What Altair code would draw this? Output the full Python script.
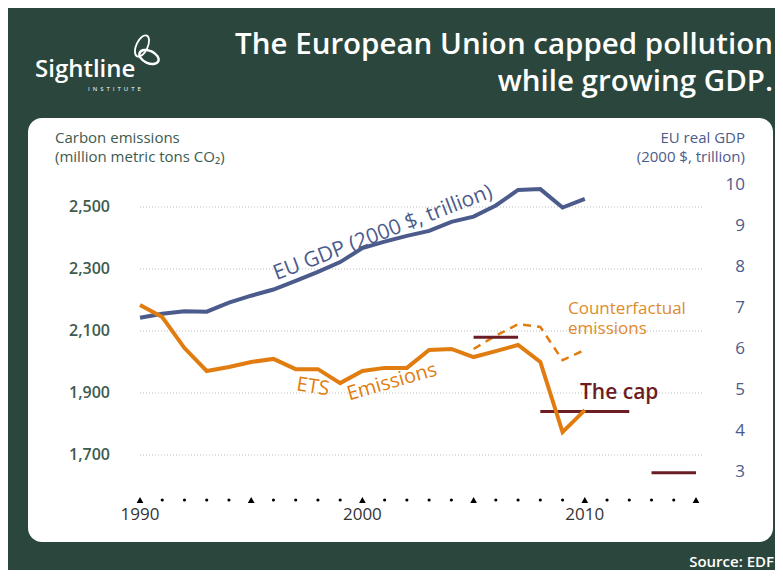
import altair as alt
import pandas as pd

# ---- data ----
years = list(range(1990, 2011))
ets_emissions = [2184, 2145, 2045, 1971, 1984, 2000, 2010, 1977, 1977, 1932,
                 1971, 1981, 1981, 2039, 2042, 2016, 2035, 2055, 2000, 1774, 1845]
eu_gdp = [6.76, 6.86, 6.92, 6.91, 7.13, 7.30, 7.45, 7.66, 7.88, 8.12,
          8.46, 8.62, 8.76, 8.88, 9.10, 9.23, 9.50, 9.88, 9.90, 9.45, 9.66]
cf_years = [2005, 2006, 2007, 2008, 2009, 2010]
cf_emissions = [2042, 2085, 2122, 2113, 2006, 2039]
cap_start = [2005, 2008, 2013]
cap_end = [2007, 2012, 2015]
cap_value = [2080, 1840, 1643]
left_ticks = [1700, 1900, 2100, 2300, 2500]
left_labels = ["1,700", "1,900", "2,100", "2,300", "2,500"]
right_ticks = [3, 4, 5, 6, 7, 8, 9, 10]
x_tick_years = list(range(1990, 2016))
x_label_years = [1990, 2000, 2010]

BG = "#2b473d"
ORANGE = "#e17d10"
BLUE = "#4b5b8c"
MAROON = "#6b1d24"
AXGREEN = "#3d5b4e"
FONT = "Open Sans"

xs = alt.Scale(domain=[1990, 2015], range=[132, 688], nice=False, zero=False)
ys = alt.Scale(domain=[1700, 2500], range=[447, 199], nice=False, zero=False)
gs = alt.Scale(domain=[3, 10], range=[464, 177], nice=False, zero=False)

main = pd.DataFrame({"year": years, "ets": ets_emissions, "gdp": eu_gdp})
cf = pd.DataFrame({"year": cf_years, "cf": cf_emissions})
cap = pd.DataFrame({"s": cap_start, "e": cap_end, "v": cap_value})
lt = pd.DataFrame({"v": left_ticks, "lab": left_labels})
rt = pd.DataFrame({"v": right_ticks, "lab": [str(t) for t in right_ticks]})
xt = pd.DataFrame({"year": x_tick_years,
                   "major": [y % 5 == 0 for y in x_tick_years]})
xl = pd.DataFrame({"year": x_label_years, "lab": [str(y) for y in x_label_years]})
one = pd.DataFrame({"a": [0]})


def label(text, x, y, size, color, align="left", weight="normal", angle=0, lh=None):
    kw = dict(text=text, fontSize=size, color=color, align=align,
              baseline="middle", fontWeight=weight, font=FONT)
    if angle:
        kw["angle"] = angle
    if lh:
        kw["lineBreak"] = "\n"
        kw["lineHeight"] = lh
    return alt.Chart(one).mark_text(**kw).encode(x=alt.value(x), y=alt.value(y))


panel = alt.Chart(one).mark_rect(color="white", cornerRadius=14).encode(
    x=alt.value(20), x2=alt.value(765), y=alt.value(110), y2=alt.value(534))

grid = alt.Chart(lt).mark_rule(color="#bdbdbd", strokeDash=[1, 2], strokeWidth=1).encode(
    y=alt.Y("v:Q", scale=ys, axis=None), x=alt.value(132), x2=alt.value(695))

left_lab = alt.Chart(lt).mark_text(align="right", baseline="middle", fontSize=16,
                                   fontWeight=600, color=AXGREEN, font=FONT).encode(
    y=alt.Y("v:Q", scale=ys, axis=None), x=alt.value(102), text="lab:N")

right_lab = alt.Chart(rt).mark_text(align="right", baseline="middle", fontSize=17,
                                    color=BLUE, font=FONT).encode(
    y=alt.Y("v:Q", scale=gs, axis=None), x=alt.value(737), text="lab:N")

ticks_major = alt.Chart(xt).transform_filter("datum.major").mark_point(
    shape="triangle-up", filled=True, color="black", size=45, opacity=1).encode(
    x=alt.X("year:Q", scale=xs, axis=None), y=alt.value(492))
ticks_minor = alt.Chart(xt).transform_filter("!datum.major").mark_point(
    shape="circle", filled=True, color="black", size=10, opacity=1).encode(
    x=alt.X("year:Q", scale=xs, axis=None), y=alt.value(492))
x_lab = alt.Chart(xl).mark_text(fontSize=17, color="#333333", baseline="middle",
                                font=FONT).encode(
    x=alt.X("year:Q", scale=xs, axis=None), y=alt.value(507), text="lab:N")

gdp_line = alt.Chart(main).mark_line(color=BLUE, strokeWidth=4).encode(
    x=alt.X("year:Q", scale=xs, axis=None), y=alt.Y("gdp:Q", scale=gs, axis=None))
ets_line = alt.Chart(main).mark_line(color=ORANGE, strokeWidth=4).encode(
    x=alt.X("year:Q", scale=xs, axis=None), y=alt.Y("ets:Q", scale=ys, axis=None))
cf_line = alt.Chart(cf).mark_line(color=ORANGE, strokeWidth=2.5, strokeDash=[8, 6]).encode(
    x=alt.X("year:Q", scale=xs, axis=None), y=alt.Y("cf:Q", scale=ys, axis=None))
cap_rule = alt.Chart(cap).mark_rule(color=MAROON, strokeWidth=3).encode(
    x=alt.X("s:Q", scale=xs, axis=None), x2="e:Q", y=alt.Y("v:Q", scale=ys, axis=None))

logo1 = alt.Chart(one).mark_point(
    shape="M -0.5 0 A 0.5 1 0 1 0 0.5 0 A 0.5 1 0 1 0 -0.5 0 Z",
    filled=False, color="white", strokeWidth=1.8, size=520, opacity=1, angle=25).encode(
    x=alt.value(134), y=alt.value(38))
logo2 = alt.Chart(one).mark_point(
    shape="M -1 0 A 1 0.6 0 1 0 1 0 A 1 0.6 0 1 0 -1 0 Z",
    filled=False, color="white", strokeWidth=2.4, size=420, opacity=1, angle=25).encode(
    x=alt.value(141), y=alt.value(49))

institute = "\u2002".join("INSTITUTE")

layers = [
    panel, grid, left_lab, right_lab, ticks_major, ticks_minor, x_lab,
    gdp_line, cf_line, cap_rule, ets_line,
    label("The European Union capped pollution\nwhile growing GDP.", 765, 37, 29.5,
          "white", "right", 600, lh=37),
    label("Sightline", 27, 62, 24, "white", "left", 600),
    label(institute, 80, 81, 6, "white", "left"),
    logo1, logo2,
    label("Carbon emissions\n(million metric tons CO\u2082)", 47, 130, 15, AXGREEN, lh=19),
    label("EU real GDP\n(2000 $, trillion)", 737, 130, 15, BLUE, "right", lh=19),
    label("EU GDP (2000 $, trillion)", 375, 225, 21, BLUE, "center", "normal", 339),
    label("ETS", 305, 379, 20, ORANGE, "center", "normal", 9),
    label("Emissions", 384, 374, 20, ORANGE, "center", "normal", 344),
    label("Counterfactual", 560, 301, 17, "#e08a2c"),
    label("emissions", 560, 321, 17, "#e08a2c"),
    label("The cap", 572, 385, 21, MAROON, "left", 600),
    label("Source: EDF", 766, 554, 15, "white", "right", 600),
]

chart = alt.layer(*layers).resolve_scale(y="independent").properties(
    width=767, height=562, padding=0,
    autosize=alt.AutoSizeParams(type="none"),
    background=BG,
).configure_view(stroke=None)

chart.save("out.html", embed_options={"renderer": "svg", "actions": False})
